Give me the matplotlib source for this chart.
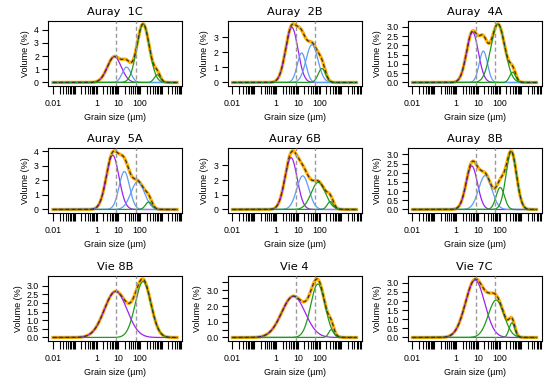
import numpy as np
import matplotlib.pyplot as plt
from matplotlib.ticker import FixedLocator, FixedFormatter, NullLocator

plt.rcParams['font.family'] = ['Liberation Sans', 'DejaVu Sans']

titles = ["Auray  1C", "Auray  2B", "Auray  4A",
          "Auray  5A", "Auray 6B", "Auray  8B",
          "Vie 8B", "Vie 4", "Vie 7C"]

# fitted end-member components:
# mode (µm), peak height (%), spread (log10 units), family
modes = [
    [6.6, 24, 138, 620],
    [5.3, 15, 45, 128],
    [5.7, 18, 84, 400],
    [5.5, 19, 78, 250],
    [4.9, 17, 88, 310],
    [5.3, 22, 108, 346],
    [7.6, 138],
    [6.3, 84, 346],
    [7.5, 70, 370],
]
heights = [
    [1.95, 1.16, 4.43, 0.58],
    [3.65, 1.95, 2.50, 0.92],
    [2.72, 1.69, 3.15, 0.55],
    [3.72, 2.60, 1.90, 0.51],
    [3.53, 2.29, 1.85, 0.54],
    [2.37, 1.85, 1.20, 3.15],
    [2.66, 3.23],
    [2.62, 3.40, 0.50],
    [3.15, 2.05, 0.80],
]
spreads = [
    [0.32, 0.20, 0.29, 0.14],
    [0.28, 0.20, 0.27, 0.17],
    [0.27, 0.19, 0.32, 0.14],
    [0.29, 0.24, 0.31, 0.15],
    [0.28, 0.28, 0.33, 0.14],
    [0.26, 0.30, 0.19, 0.24],
    [0.52, 0.36],
    [0.54, 0.33, 0.12],
    [0.44, 0.36, 0.13],
]
families = [
    ["clay", "silt", "sand", "sand"],
    ["clay", "silt", "silt", "sand"],
    ["clay", "silt", "sand", "sand"],
    ["clay", "silt", "silt", "sand"],
    ["clay", "silt", "sand", "sand"],
    ["clay", "silt", "sand", "sand"],
    ["clay", "sand"],
    ["clay", "sand", "sand"],
    ["clay", "sand", "sand"],
]

# y tick step and labelled step for each panel
ytick_step = [1, 1, 0.5, 1, 1, 0.5, 0.5, 0.5, 0.5]
ylab_step = [1, 1, 0.5, 1, 1, 0.5, 0.5, 1, 0.5]

boundaries = [8, 63]   # µm, grey dashed lines
size_range = (0.01, 5000)
xlabels = [0.01, 1, 10, 100]

fam_col = {"clay": "#A020F0", "silt": "#5E9CF5", "sand": "#1F9A1F"}

W, H = 550, 383
fig = plt.figure(figsize=(W / 100, H / 100), dpi=100)

lefts = [48, 227.5, 407.5]
tops = [21, 148, 276]
bw, bh = 134, 65

x = np.geomspace(size_range[0], size_range[1], 600)
lx = np.log10(x)

minor = [m * 10.0 ** k for k in range(-2, 4) for m in range(1, 10)]

for i in range(9):
    r, c = divmod(i, 3)
    ax = fig.add_axes([lefts[c] / W, 1 - (tops[r] + bh) / H, bw / W, bh / H])
    ax.set_xscale('log')

    comps = []
    for m, h, s in zip(modes[i], heights[i], spreads[i]):
        comps.append(h * np.exp(-0.5 * ((lx - np.log10(m)) / s) ** 2))
    total = np.sum(comps, axis=0)

    ax.plot(x, total, color='#FFB000', lw=2.4, zorder=2)
    for y, f in zip(comps, families[i]):
        ax.plot(x, y, color=fam_col[f], lw=0.9, zorder=3)
    ax.plot(x, total, color='#333333', lw=0.9, ls=(0, (3, 2)), zorder=4)
    for b in boundaries:
        ax.axvline(b, color='#9a9a9a', lw=1.0, ls=(0, (3, 2)), zorder=5)

    ymax = total.max()
    ax.set_ylim(-0.06 * ymax, ymax * 1.05)
    lo, hi = np.log10(size_range)
    pad = 0.04 * (hi - lo)
    ax.set_xlim(10 ** (lo - pad), 10 ** (hi + pad))

    ax.xaxis.set_major_locator(FixedLocator(minor))
    ax.xaxis.set_major_formatter(FixedFormatter(
        [("%g" % v) if any(np.isclose(v, xlabels)) else "" for v in minor]))
    ax.xaxis.set_minor_locator(NullLocator())

    st = ytick_step[i]
    yt = np.arange(0, ymax + 1e-9, st)
    ax.set_yticks(yt)
    ls = ylab_step[i]
    if ls == 1 and st == 1:
        labs = ["%d" % v for v in yt]
    else:
        labs = [("%.1f" % v) if abs(v / ls - round(v / ls)) < 1e-6 else "" for v in yt]
    ax.set_yticklabels(labs)

    ax.tick_params(axis='both', length=4.5, width=0.8, labelsize=6.3, pad=2)
    ax.tick_params(axis='x', length=5.5, pad=4)
    for sp in ax.spines.values():
        sp.set_linewidth(0.8)

    ax.set_title(titles[i], fontsize=8.2, family='DejaVu Sans', pad=4)
    ax.set_xlabel("Grain size (µm)", fontsize=6.5, labelpad=3.5)
    ax.set_ylabel("Volume (%)", fontsize=6.5, labelpad=3)

fig.savefig("out.png", dpi=100)
